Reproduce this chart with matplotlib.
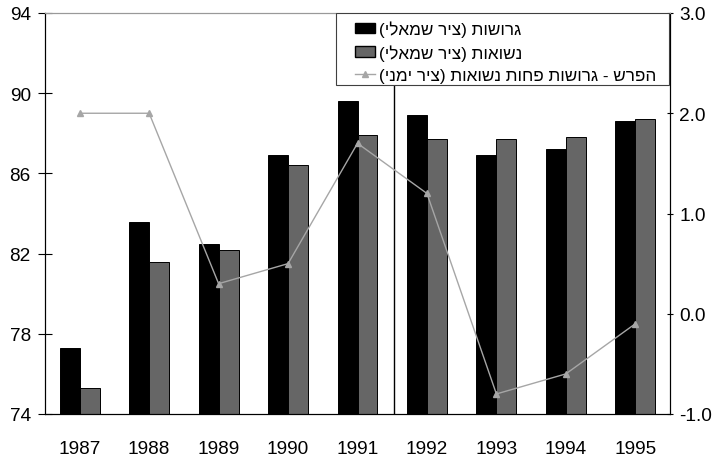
import matplotlib
matplotlib.use("Agg")
import matplotlib.pyplot as plt
from matplotlib.patches import Patch, Rectangle
from matplotlib.lines import Line2D
import numpy as np

plt.rcParams['font.family'] = ['Liberation Sans', 'DejaVu Sans']

years = ['1987', '1988', '1989', '1990', '1991', '1992', '1993', '1994', '1995']
divorced = [77.3, 83.6, 82.5, 86.9, 89.6, 88.9, 86.9, 87.2, 88.6]
married = [75.3, 81.6, 82.2, 86.4, 87.9, 87.7, 87.7, 87.8, 88.7]
gap = [2.0, 2.0, 0.3, 0.5, 1.7, 1.2, -0.8, -0.6, -0.1]

left_ticks = [74, 78, 82, 86, 90, 94]
right_ticks = [-1.0, 0.0, 1.0, 2.0, 3.0]

lbl_div = "גרושות (ציר שמאלי)"
lbl_mar = "נשואות (ציר שמאלי)"
lbl_gap = "הפרש - גרושות פחות נשואות (ציר ימני)"


def visual(s):
    # convert logical RTL Hebrew to visual (left-to-right) order
    mirror = {'(': ')', ')': '('}
    return ''.join(mirror.get(c, c) for c in reversed(s))


W, H = 720, 460
fig = plt.figure(figsize=(W / 100, H / 100), dpi=100)
ax = fig.add_axes([45 / W, 45 / H, 625 / W, 401 / H])
ax2 = ax.twinx()

x = np.arange(len(years))
w = 0.287
ax.bar(x - w / 2, divorced, width=w, color='black', edgecolor='black', linewidth=0.7, zorder=2)
ax.bar(x + w / 2, married, width=w, color='#666666', edgecolor='black', linewidth=0.7, zorder=2)
ax.axvline(4.53, color='black', linewidth=1.0, zorder=3)

ax2.plot(x, gap, color='#a6a6a6', linewidth=1.0, marker='^', markersize=5,
         markerfacecolor='#a6a6a6', markeredgecolor='#a6a6a6', zorder=4)

ax.set_xlim(-0.5, len(years) - 0.5)
ax.set_ylim(74, 94)
ax2.set_ylim(-1, 3)
ax.set_yticks(left_ticks)
ax.set_yticklabels([str(t) for t in left_ticks])
ax2.set_yticks(right_ticks)
ax2.set_yticklabels([f"{t:.1f}" for t in right_ticks])
ax.set_xticks(x)
ax.set_xticklabels(years)

fs = 13.7
ax.tick_params(axis='x', length=0, pad=19, labelsize=fs)
ax.tick_params(axis='y', direction='inout', length=9.5, width=0.8, pad=5.5, labelsize=fs)
ax2.tick_params(axis='y', direction='inout', length=4.5, width=0.8, pad=4.5, labelsize=fs)

for a in (ax, ax2):
    a.spines['top'].set_color('#999999')
    for s in ('top', 'left', 'right', 'bottom'):
        a.spines[s].set_linewidth(0.8)

# legend frame (drawn separately so its padding matches the reference)
frame = Rectangle((336 / W, (H - 86) / H), 333 / W, 72 / H, transform=fig.transFigure,
                  facecolor='white', edgecolor='#404040', linewidth=0.8, zorder=9)
ax2.add_artist(frame)

handles = [Patch(facecolor='black', edgecolor='black'),
           Patch(facecolor='#666666', edgecolor='black'),
           Line2D([0], [0], color='#a6a6a6', marker='^', markersize=5, linewidth=1.0)]
labels = [visual(lbl_div), visual(lbl_mar), visual(lbl_gap)]
leg = ax2.legend(handles, labels, loc='upper left', bbox_to_anchor=(355 / W, (H - 21.5) / H),
                 bbox_transform=fig.transFigure, frameon=False,
                 fontsize=12.3, handlelength=1.17, handleheight=0.6, handletextpad=0.25,
                 labelspacing=0.42, borderpad=0, borderaxespad=0)
leg.set_zorder(10)
ax.set_zorder(1)
ax.patch.set_visible(False)
ax2.set_zorder(2)

fig.savefig('out.png', dpi=100)
